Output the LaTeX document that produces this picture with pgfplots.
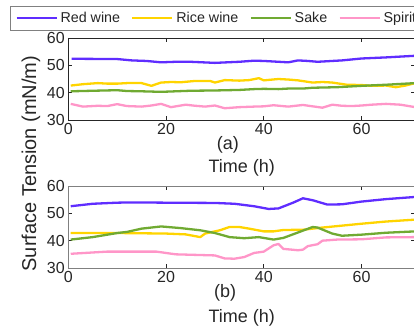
\documentclass[border=0pt]{standalone}
\usepackage{fontspec}
\setmainfont{Liberation Sans}
\usepackage{pgfplots}
\pgfplotsset{compat=1.18}
\definecolor{cred}{RGB}{95,45,255}
\definecolor{crice}{RGB}{255,212,0}
\definecolor{csake}{RGB}{112,170,50}
\definecolor{cspir}{RGB}{255,150,200}
\definecolor{txt}{RGB}{38,38,38}
\begin{document}
\begin{tikzpicture}[x=1pt,y=1pt]
\pgfplotsset{
  common/.style={
    anchor=south west, width=347pt, height=82pt, scale only axis,
    xmin=0, xmax=71, ymin=30, ymax=60,
    xtick={0,20,40,60}, ytick={30,40,50,60},
    tick align=inside, major tick length=4pt,
    /pgf/number format/assume math mode=true,
    ticklabel style={font=\fontsize{16}{18}\selectfont, text=txt},
    xlabel={Time (h)},
    label style={font=\fontsize{18}{20}\selectfont, text=txt},
    every axis plot/.append style={line width=2.3pt, line join=round},
    clip mode=individual,
  }
}
\begin{axis}[common, at={(68.3pt,212pt)},
  axis line style={txt, line width=0.8pt}, tick style={txt, line width=0.6pt},
  xlabel style={at={(axis description cs:0.5,-0.585)}, anchor=center},
  legend columns=4,
  legend image code/.code={\draw[#1] (0pt,0pt) -- (40pt,0pt);},
  legend style={at={(axis description cs:-0.168,1.394)}, anchor=north west,
    draw=gray, line width=0.8pt, font=\fontsize{14.3}{16.5}\selectfont, text=txt,
    inner xsep=5pt, inner ysep=4pt,
    /tikz/every even column/.append style={column sep=9.2pt},
    /tikz/every odd column/.append style={column sep=0.8pt}},
]
\addplot[cred] coordinates {(0.7,52.4)(10,52.3)(13,51.8)(16,51.6)(19,51.1)(22,51.3)(25,51.3)(30,50.9)(35,51.3)(38,51.7)(40,51.6)(42,51.4)(45,51.1)(47,51.8)(49,51.6)(51,51.3)(53,51.5)(56,51.8)(60,52.5)(65,52.9)(71,53.5)};
\addlegendentry{Red wine}
\addplot[crice] coordinates {(0.5,42.6)(3,43.1)(6,43.5)(8,43.3)(10,43.3)(12,43.5)(15,43.5)(17,42.5)(19,43.7)(21,43.9)(23,43.8)(26,44.3)(29,44.3)(30,43.7)(32,44.6)(35,44.4)(37,44.6)(39,45.3)(40,44.5)(43,45.0)(45,44.8)(47,44.5)(50,43.7)(52,43.9)(54,43.7)(57,42.9)(60,42.8)(62,42.5)(65,42.6)(67,42.0)(69,42.6)(71,43.5)};
\addlegendentry{Rice wine}
\addplot[csake] coordinates {(0.5,40.5)(5,40.7)(10,40.9)(12,40.6)(15,40.5)(19,40.3)(22,40.5)(25,40.7)(30,40.8)(35,41.0)(38,41.3)(40,41.4)(43,41.3)(45,41.5)(48,41.5)(50,41.8)(55,42.0)(60,42.5)(65,42.9)(71,43.5)};
\addlegendentry{Sake}
\addplot[cspir] coordinates {(0.5,35.9)(3,34.9)(6,35.2)(8,35.1)(10,35.8)(12,35.1)(15,34.9)(17,35.3)(19,35.9)(21,34.7)(24,35.6)(26,35.2)(28,34.9)(30,35.3)(32,34.3)(35,34.7)(38,34.9)(40,35.0)(42,35.4)(45,34.9)(48,35.5)(50,35.0)(52,34.5)(54,35.6)(56,35.2)(58,35.1)(60,35.3)(62,35.6)(65,35.9)(68,35.6)(71,34.7)};
\addlegendentry{Spirits}
\node[font=\fontsize{18}{20}\selectfont, text=txt] at (axis description cs:0.46,-0.305) {(a)};
\end{axis}
\begin{axis}[common, at={(68.3pt,64pt)},
  axis line style={gray, line width=1pt}, tick style={txt, line width=0.6pt},
  xlabel style={at={(axis description cs:0.5,-0.61)}, anchor=center},
  ylabel={Surface Tension (mN/m)},
  ylabel style={at={(axis description cs:-0.1075,1.274)}, anchor=center, font=\fontsize{20}{22}\selectfont},
]
\addplot[cred] coordinates {(0.5,52.6)(5,53.5)(10,53.9)(13,54.0)(20,53.9)(30,53.8)(34,53.5)(38,52.6)(41,51.6)(43,51.8)(46,53.9)(48,55.5)(50,54.8)(53,53.2)(56,53.3)(60,54.3)(65,55.2)(71,56.0)};
\addplot[crice] coordinates {(0.5,42.8)(10,42.8)(20,42.6)(24,42.3)(27,41.3)(28,42.6)(31,43.8)(33,45.0)(35,45.0)(37,44.4)(40,43.4)(42,43.4)(44,43.9)(48,44.0)(52,44.8)(56,45.5)(60,46.2)(65,47.0)(71,47.7)};
\addplot[csake] coordinates {(0.5,40.4)(5,41.3)(10,42.8)(12,43.2)(15,44.4)(19,45.2)(23,44.6)(27,43.8)(30,42.8)(33,41.3)(36,40.9)(39,41.3)(42,40.4)(44,41.0)(47,43.0)(50,45.0)(51,44.8)(54,42.6)(56,41.8)(60,42.2)(65,42.9)(71,43.4)};
\addplot[cspir] coordinates {(0.5,35.2)(8,36.0)(18,36.0)(22,35.0)(30,34.6)(32,33.5)(34,33.4)(36,34.0)(38,35.5)(40,36.0)(42,38.3)(43,38.8)(44,37.0)(47,36.5)(48,36.7)(49,38.0)(51,38.7)(52,40.0)(55,40.4)(60,40.5)(65,41.2)(71,41.3)};
\node[font=\fontsize{18}{20}\selectfont, text=txt] at (axis description cs:0.452,-0.309) {(b)};
\end{axis}
\pgfresetboundingbox
\path[use as bounding box] (0pt,0pt) rectangle (414pt,332pt);
\end{tikzpicture}
\end{document}
